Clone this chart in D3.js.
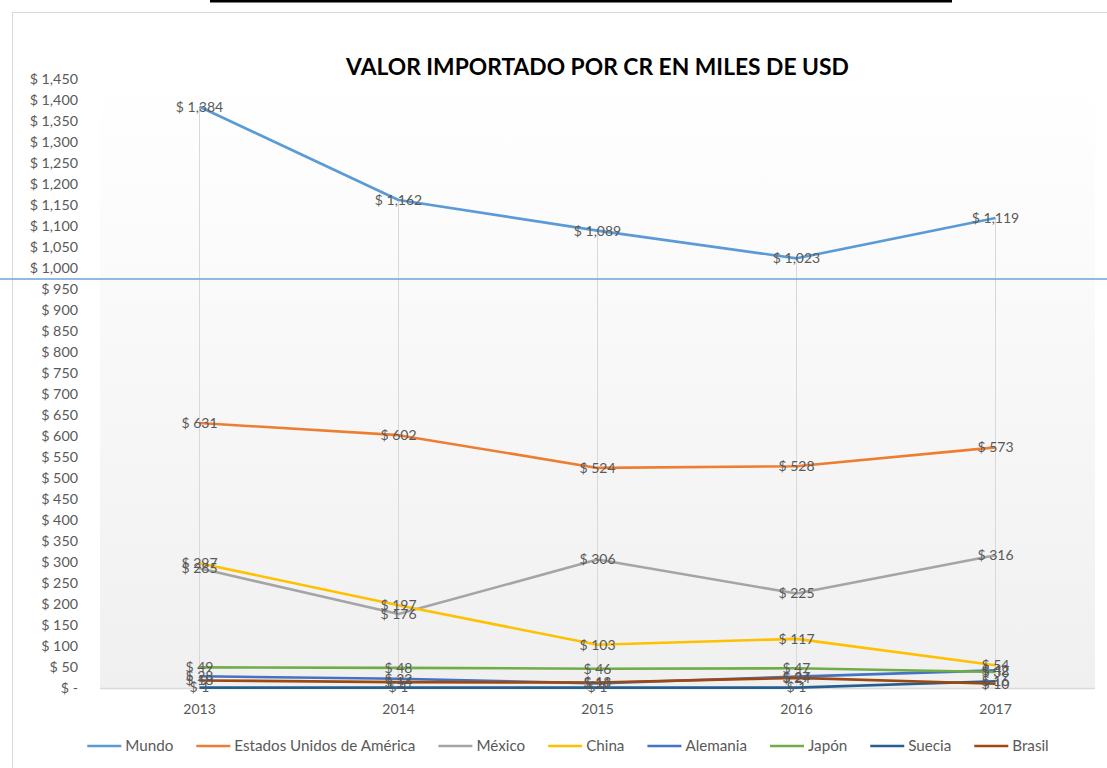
<!DOCTYPE html>
<html>
<head>
<meta charset="utf-8">
<script src="https://cdn.jsdelivr.net/npm/d3@7"></script>
<style>
  html, body { margin: 0; padding: 0; background: #ffffff; }
  svg { display: block; font-family: Lato, "Open Sans", sans-serif; }
</style>
</head>
<body>
<svg id="chart" width="1107" height="768"></svg>
<script>
// ---- Data ----
const years = ["2013", "2014", "2015", "2016", "2017"];
const seriesNames = ["Mundo", "Estados Unidos de América", "México", "China", "Alemania", "Japón", "Suecia", "Brasil"];
const mundo    = [1384, 1162, 1089, 1023, 1119];
const eeuu     = [631, 602, 524, 528, 573];
const mexico   = [285, 176, 306, 225, 316];
const china    = [297, 197, 103, 117, 54];
const alemania = [28, 22, 11, 27, 42];
const japon    = [49, 48, 46, 47, 38];
const suecia   = [1, 1, 1, 1, 16];
const brasil   = [18, 14, 13, 24, 10];
const yTicks = d3.range(0, 1451, 50);
const title = "VALOR IMPORTADO POR CR EN MILES DE USD";

const seriesValues = [mundo, eeuu, mexico, china, alemania, japon, suecia, brasil];
const colors = ["#5B9BD5", "#ED7D31", "#A5A5A5", "#FFC000", "#4472C4", "#70AD47", "#255E91", "#9E480E"];

const series = seriesNames.map((n, i) => ({ name: n, values: seriesValues[i], color: colors[i] }));

// ---- Layout ----
const W = 1107, H = 768;
const plot = { left: 100, right: 1095, top: 79, bottom: 688 };

const svg = d3.select("#chart");

const x = d3.scaleBand().domain(years).range([plot.left, plot.right]);
const xc = d => x(d) + x.bandwidth() / 2;
const y = d3.scaleLinear().domain([0, 1450]).range([plot.bottom, plot.top]);

const money = v => v === 0 ? "$ -" : "$ " + d3.format(",")(v);

// top black bar (decorative)
svg.append("rect").attr("x", 210).attr("y", 0).attr("width", 742).attr("height", 2.5).attr("fill", "#000");

// chart frame
svg.append("rect").attr("x", 12.5).attr("y", 12.5).attr("width", W + 20).attr("height", H + 20)
  .attr("fill", "#fff").attr("stroke", "#d9d9d9").attr("stroke-width", 1);

// plot background gradient
const defs = svg.append("defs");
const grad = defs.append("linearGradient").attr("id", "bg").attr("x1", 0).attr("y1", 0).attr("x2", 0).attr("y2", 1);
grad.append("stop").attr("offset", "0%").attr("stop-color", "#ffffff");
grad.append("stop").attr("offset", "100%").attr("stop-color", "#f0f0f0");
svg.append("rect").attr("x", plot.left).attr("y", plot.top).attr("width", plot.right - plot.left)
  .attr("height", plot.bottom - plot.top).attr("fill", "url(#bg)");

// title
svg.append("text").attr("x", (plot.left + plot.right) / 2).attr("y", 75)
  .attr("text-anchor", "middle").attr("font-weight", "bold").attr("font-size", 22.8)
  .attr("fill", "#000").text(title);

// drop lines (from max value to axis)
svg.append("g").selectAll("line").data(years).join("line")
  .attr("x1", d => xc(d)).attr("x2", d => xc(d))
  .attr("y1", (d, i) => y(d3.max(series, s => s.values[i])))
  .attr("y2", y(0))
  .attr("stroke", "#d9d9d9").attr("stroke-width", 1);

// x axis baseline
svg.append("line").attr("x1", plot.left).attr("x2", plot.right).attr("y1", y(0) + 0.5).attr("y2", y(0) + 0.5)
  .attr("stroke", "#d9d9d9").attr("stroke-width", 1.5);

// y axis
const yAxis = d3.axisLeft(y).tickValues(yTicks).tickFormat(money).tickSize(0).tickPadding(0);
const gy = svg.append("g").attr("transform", `translate(78,0)`).call(yAxis);
gy.select(".domain").remove();
gy.selectAll("text").attr("font-size", 14.3).attr("fill", "#595959").attr("font-family", "Lato, sans-serif");

// x axis
const xAxis = d3.axisBottom(x).tickSize(0).tickPadding(0);
const gx = svg.append("g").attr("transform", `translate(0,${y(0) + 16})`).call(xAxis);
gx.select(".domain").remove();
gx.selectAll("text").attr("font-size", 14).attr("fill", "#595959").attr("font-family", "Lato, sans-serif");

// decorative horizontal line across the chart
svg.append("line").attr("x1", 0).attr("x2", W).attr("y1", y(974)).attr("y2", y(974))
  .attr("stroke", "#6fa0d8").attr("stroke-width", 1.5);

// lines
const line = d3.line().x((d, i) => xc(years[i])).y(d => y(d));
svg.append("g").selectAll("path").data(series).join("path")
  .attr("d", s => line(s.values)).attr("fill", "none")
  .attr("stroke", s => s.color).attr("stroke-width", 2.6).attr("stroke-linejoin", "round");

// data labels
const lg = svg.append("g");
series.forEach(s => {
  lg.selectAll(null).data(s.values).join("text")
    .attr("x", (d, i) => xc(years[i])).attr("y", d => y(d))
    .attr("dy", "0.35em").attr("text-anchor", "middle")
    .attr("font-size", 14).attr("fill", "#595959")
    .text(d => money(d));
});

// legend
const legend = svg.append("g");
const items = legend.selectAll("g").data(series).join("g");
items.append("line").attr("x1", 0).attr("x2", 34).attr("y1", 0).attr("y2", 0)
  .attr("stroke", s => s.color).attr("stroke-width", 2.6);
items.append("text").attr("x", 38).attr("dy", "0.35em").attr("font-size", 15.2).attr("fill", "#595959").text(s => s.name);
const gap = 23;
let cx = 0;
const offs = [];
items.each(function () {
  const w = 38 + this.querySelector("text").getComputedTextLength();
  offs.push(cx);
  cx += w + gap;
});
const totalW = cx - gap;
const lx0 = 568 - totalW / 2;
items.attr("transform", (d, i) => `translate(${lx0 + offs[i]},746)`);
</script>
</body>
</html>
